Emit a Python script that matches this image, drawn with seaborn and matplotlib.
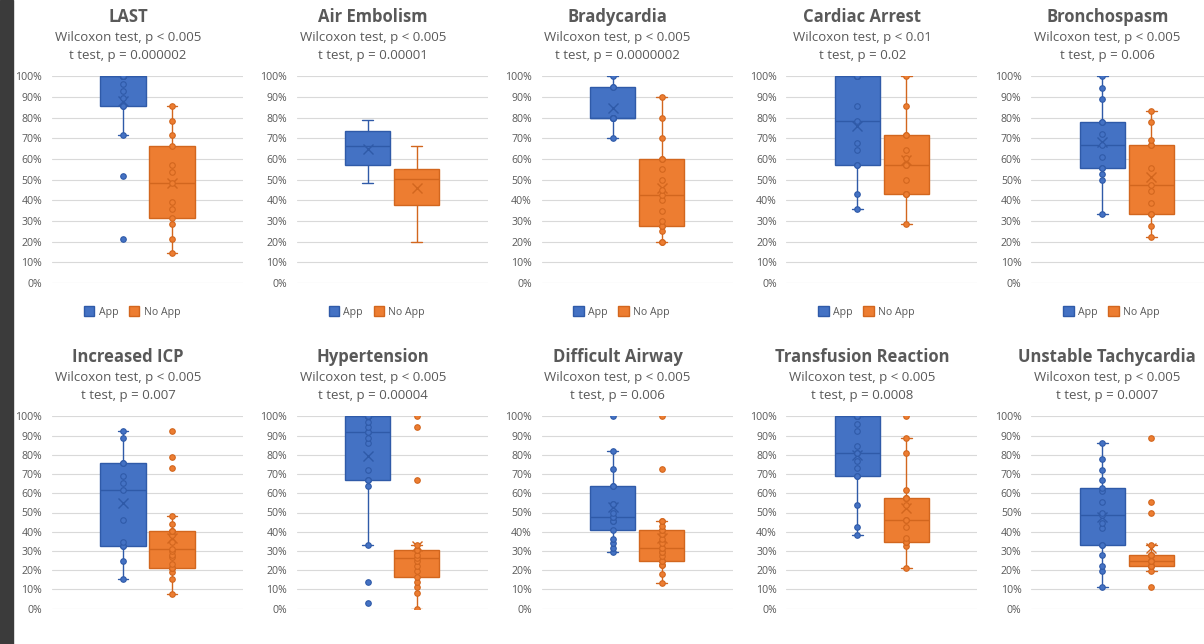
import matplotlib
matplotlib.use("Agg")
import matplotlib.pyplot as plt
from matplotlib.patches import Patch, Rectangle
from matplotlib.ticker import PercentFormatter
import pandas as pd
import seaborn as sns

# scenario names and test results
titles = ["LAST", "Air Embolism", "Bradycardia", "Cardiac Arrest", "Bronchospasm",
          "Increased ICP", "Hypertension", "Difficult Airway", "Transfusion Reaction",
          "Unstable Tachycardia"]
wilcoxon_p = ["p < 0.005", "p < 0.005", "p < 0.005", "p < 0.01", "p < 0.005",
              "p < 0.005", "p < 0.005", "p < 0.005", "p < 0.005", "p < 0.005"]
ttest_p = ["0.000002", "0.00001", "0.0000002", "0.02", "0.006",
           "0.007", "0.00004", "0.006", "0.0008", "0.0007"]
groups = ["App", "No App"]
# Excel hid the inner points on the Air Embolism chart
show_points = [True, False, True, True, True, True, True, True, True, True]

# scores (%)
last_app = [21.4, 51.8, 71.4, 85.7, 85.7, 89.3, 92.9, 96.4, 100, 100, 100, 100, 100, 100, 100, 100, 100]
last_noapp = [14.3, 21.4, 28.6, 31.5, 35.7, 39.3, 48.5, 53.6, 57.1, 66.1, 71.4, 78.6, 85.7]
air_app = [48.5, 56.9, 66.3, 73.7, 78.7]
air_noapp = [20.0, 37.6, 50.2, 55.3, 66.3]
brady_app = [70, 80, 80, 80, 80, 80, 95, 95, 100]
brady_noapp = [20, 20, 25, 27.5, 27.5, 30, 35, 40, 42.5, 45, 50, 55, 60, 60, 70, 80, 90]
cardiac_app = [35.7, 42.9, 57.1, 57.1, 64.3, 67.9, 78.6, 85.7, 100, 100, 100, 100, 100]
cardiac_noapp = [28.6, 42.9, 42.9, 42.9, 50, 57.1, 57.1, 60.7, 64.3, 71.4, 71.4, 85.7, 100]
broncho_app = [33.3, 50, 52.8, 55.6, 55.6, 61.1, 66.7, 72.2, 77.8, 77.8, 88.9, 94.4, 100]
broncho_noapp = [22.2, 27.8, 33.3, 33.3, 38.9, 44.4, 47.2, 55.6, 66.7, 66.7, 69.4, 77.8, 83.3]
icp_app = [15.4, 25.0, 32.6, 32.6, 34.6, 46.2, 61.5, 65.4, 69.2, 75.7, 75.7, 88.5, 92.3]
icp_noapp = [7.7, 15.4, 19.2, 21, 21, 21, 23.1, 26.9, 28, 30, 31, 34.6, 38.5, 40.6, 40.6,
             40.6, 44.2, 48.1, 73.1, 78.8, 92.3]
htn_app = [2.8, 13.9, 33.3, 63.9, 66.7, 66.7, 72.2, 86.1, 88.9, 91.7, 91.7, 94.4, 97.2,
           100, 100, 100, 100, 100, 100, 100, 100]
htn_noapp = [0, 8.3, 11.1, 13.9, 16.7, 19.4, 22.2, 25, 26.4, 27.8, 30.6, 30.6, 30.6, 33.3,
             66.7, 94.4, 100]
airway_app = [29.5, 31.8, 34.1, 36.4, 40.9, 45.5, 45.5, 47.7, 47.7, 50, 54.5, 54.5, 63.6,
              63.6, 72.7, 81.8, 100]
airway_noapp = [13.6, 18.2, 22.7, 22.7, 25, 25, 27.3, 29.5, 29.5, 31.8, 31.8, 34.1, 36.4,
                38.6, 40.9, 40.9, 43.2, 45.5, 45.5, 72.7, 100]
transf_app = [38.5, 42.3, 53.8, 69.2, 69.2, 73.1, 76.9, 80.8, 80.8, 84.6, 92.3, 96.2,
              100, 100, 100, 100, 100]
transf_noapp = [21.2, 32.7, 34.6, 34.6, 34.6, 36.5, 42.3, 46.2, 46.2, 53.8, 57.7, 57.7,
                57.7, 61.5, 80.8, 88.5, 100]
tachy_app = [11.1, 19.4, 22.2, 27.8, 33.3, 33.3, 41.7, 44.4, 48.6, 50, 55.6, 61.1, 62.5,
             66.7, 72.2, 77.8, 86.1]
tachy_noapp = [11.1, 19.4, 22.2, 22.2, 22.2, 22.2, 25, 25, 25, 27.8, 27.8, 27.8, 27.8,
               33.3, 50, 55.6, 88.9]

app_scores = [last_app, air_app, brady_app, cardiac_app, broncho_app,
              icp_app, htn_app, airway_app, transf_app, tachy_app]
noapp_scores = [last_noapp, air_noapp, brady_noapp, cardiac_noapp, broncho_noapp,
                icp_noapp, htn_noapp, airway_noapp, transf_noapp, tachy_noapp]

fill = {"App": "#4472C4", "No App": "#ED7D31"}
line = {"App": "#2F5AA8", "No App": "#D2661E"}
grey = "#595959"

sns.set_theme(style="white")
plt.rcParams["font.family"] = ["Open Sans", "DejaVu Sans"]

W, H = 1204, 644
fig = plt.figure(figsize=(W / 100, H / 100), dpi=100)
fig.add_artist(Rectangle((0, 0), 13 / W, 1, transform=fig.transFigure,
                         color="#3b3b3b", zorder=10))

for i, title in enumerate(titles):
    row, col = divmod(i, 5)
    left = 52 + 244.8 * col
    top, bottom = (76.3, 283) if row == 0 else (416.3, 608.7)
    offset = 0 if row == 0 else 340
    ax = fig.add_axes([left / W, 1 - bottom / H, 191 / W, (bottom - top) / H])

    app, noapp = app_scores[i], noapp_scores[i]
    df = pd.DataFrame({"score": app + noapp,
                       "group": ["App"] * len(app) + ["No App"] * len(noapp)})

    for g in groups:
        sub = df[df["group"] == g]
        sns.boxplot(data=sub, x="group", y="score", order=groups, color=fill[g],
                    saturation=1, width=0.92, linecolor=line[g], linewidth=1,
                    whis=1.5, showfliers=False, showmeans=True, capwidths=0.22,
                    meanprops=dict(marker="x", markeredgecolor=line[g],
                                   markersize=7, markeredgewidth=1),
                    medianprops=dict(color=line[g], linewidth=1),
                    ax=ax)
        if show_points[i]:
            sns.stripplot(data=sub, x="group", y="score", order=groups, jitter=False,
                          color=fill[g], edgecolor=line[g], linewidth=0.8, size=4,
                          ax=ax, zorder=5)

    ax.set_xlim(-1.45, 2.45)
    ax.set_ylim(0, 100)
    ax.set_yticks(range(0, 101, 10))
    ax.yaxis.set_major_formatter(PercentFormatter(100, decimals=0))
    ax.tick_params(axis="y", length=0, pad=7, labelsize=7.6, labelcolor=grey)
    ax.set_xticks([])
    ax.set_xlabel("")
    ax.set_ylabel("")
    ax.grid(axis="y", color="#D9D9D9", linewidth=0.8)
    ax.set_axisbelow(True)
    for s in ax.spines.values():
        s.set_visible(False)

    cx = 128 + 244.8 * col
    fig.text(cx / W, 1 - (17 + offset) / H, title, ha="center", va="center",
             fontsize=12, fontweight="bold", color=grey)
    fig.text(cx / W, 1 - (37 + offset) / H, "Wilcoxon test, " + wilcoxon_p[i],
             ha="center", va="center", fontsize=9.5, color=grey)
    fig.text(cx / W, 1 - (55 + offset) / H, "t test, p = " + ttest_p[i],
             ha="center", va="center", fontsize=9.5, color=grey)

    handles = [Patch(facecolor=fill[g], edgecolor=line[g]) for g in groups]
    ax.legend(handles, groups, loc="center", ncol=2, frameon=False,
              bbox_to_anchor=((cx + 4) / W, 1 - (312 + offset) / H),
              bbox_transform=fig.transFigure, fontsize=7.6, labelcolor=grey,
              handlelength=1.0, handleheight=1.0, handletextpad=0.4,
              columnspacing=1.0)

fig.savefig("out.png", dpi=100)
